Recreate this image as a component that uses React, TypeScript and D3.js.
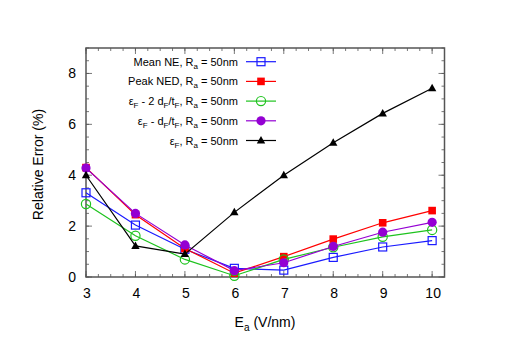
import React from "react";
import * as d3 from "d3";

const xValues = [3, 4, 5, 6, 7, 8, 9, 10];
const meanNE = [3.31, 2.04, 1.09, 0.34, 0.27, 0.77, 1.18, 1.43];
const peakNED = [4.3, 2.45, 1.12, 0.15, 0.8, 1.49, 2.13, 2.61];
const eps2d = [2.87, 1.62, 0.69, 0.05, 0.69, 1.17, 1.58, 1.85];
const eps1d = [4.28, 2.5, 1.26, 0.25, 0.56, 1.2, 1.76, 2.15];
const epsF = [4.0, 1.22, 0.9, 2.54, 4.0, 5.28, 6.43, 7.42];
const xTicks = [3, 4, 5, 6, 7, 8, 9, 10];
const yTicks = [0, 2, 4, 6, 8];

type Marker = "openSquare" | "square" | "openCircle" | "circle" | "triangle";
const series: { main: string; name: string; color: string; values: number[]; marker: Marker }[] = [
  { name: "mean", main: "Mean NE, R", color: "#1a1aff", values: meanNE, marker: "openSquare" },
  { name: "peak", main: "Peak NED, R", color: "#ff0000", values: peakNED, marker: "square" },
  { name: "eps2", main: "eps2", color: "#1ec31e", values: eps2d, marker: "openCircle" },
  { name: "eps1", main: "eps1", color: "#9400d3", values: eps1d, marker: "circle" },
  { name: "eps", main: "eps", color: "#000000", values: epsF, marker: "triangle" },
];

const L = 86, R = 444.5, T = 48, B = 277;
const x = d3.scaleLinear().domain([3, 10.25]).range([L, R]);
const y = d3.scaleLinear().domain([0, 9]).range([B, T]);

function MarkerShape({ type, cx, cy, color }: { type: Marker; cx: number; cy: number; color: string }) {
  switch (type) {
    case "openSquare":
      return <rect x={cx - 4} y={cy - 4} width={8} height={8} fill="none" stroke={color} strokeWidth={1.2} />;
    case "square":
      return <rect x={cx - 3.8} y={cy - 3.8} width={7.6} height={7.6} fill={color} />;
    case "openCircle":
      return <circle cx={cx} cy={cy} r={4.6} fill="none" stroke={color} strokeWidth={1.2} />;
    case "circle":
      return <circle cx={cx} cy={cy} r={4.6} fill={color} />;
    case "triangle":
      return <path d={`M${cx},${cy - 4.5}L${cx + 4.2},${cy + 3}L${cx - 4.2},${cy + 3}Z`} fill={color} />;
  }
}

function LegendLabel({ name, main }: { name: string; main: string }) {
  const sub = { fontSize: "8px" };
  if (name === "mean" || name === "peak") {
    return (
      <>
        {main}
        <tspan dy={3} style={sub}>a</tspan>
        <tspan dy={-3}> = 50nm</tspan>
      </>
    );
  }
  if (name === "eps2" || name === "eps1") {
    return (
      <>
        ε<tspan dy={3} style={sub}>F</tspan>
        <tspan dy={-3}>{name === "eps2" ? " - 2 d" : " - d"}</tspan>
        <tspan dy={3} style={sub}>F</tspan>
        <tspan dy={-3}>/t</tspan>
        <tspan dy={3} style={sub}>F</tspan>
        <tspan dy={-3}>, R</tspan>
        <tspan dy={3} style={sub}>a</tspan>
        <tspan dy={-3}> = 50nm</tspan>
      </>
    );
  }
  return (
    <>
      ε<tspan dy={3} style={sub}>F</tspan>
      <tspan dy={-3}>, R</tspan>
      <tspan dy={3} style={sub}>a</tspan>
      <tspan dy={-3}> = 50nm</tspan>
    </>
  );
}

export default function App() {
  const line = d3
    .line<number>()
    .x((_, i) => x(xValues[i]))
    .y((d) => y(d));
  const xMinor = d3.range(3, 10.26, 0.25);
  const yMinor = d3.range(0, 9.01, 0.5);
  const axisColor = "#555";
  const font = "'Liberation Sans', Arial, sans-serif";
  return (
    <svg width={515} height={364} style={{ position: "absolute", left: 0, top: 0, background: "#fff" }} fontFamily={font}>
      {xMinor.map((v, i) => (
        <g key={"xm" + i} stroke={axisColor} strokeWidth={0.8}>
          <line x1={x(v)} x2={x(v)} y1={B} y2={B - 3} />
          <line x1={x(v)} x2={x(v)} y1={T} y2={T + 3} />
        </g>
      ))}
      {yMinor.map((v, i) => (
        <g key={"ym" + i} stroke={axisColor} strokeWidth={0.8}>
          <line x1={L} x2={L + 3} y1={y(v)} y2={y(v)} />
          <line x1={R} x2={R - 3} y1={y(v)} y2={y(v)} />
        </g>
      ))}
      {xTicks.map((v) => (
        <g key={"xt" + v}>
          <line x1={x(v)} x2={x(v)} y1={B} y2={B - 6} stroke={axisColor} strokeWidth={0.8} />
          <line x1={x(v)} x2={x(v)} y1={T} y2={T + 6} stroke={axisColor} strokeWidth={0.8} />
          <text x={x(v) + 1} y={B + 21} textAnchor="middle" fontSize={14} fill="#000">
            {v}
          </text>
        </g>
      ))}
      {yTicks.map((v) => (
        <g key={"yt" + v}>
          <line x1={L} x2={L + 6} y1={y(v)} y2={y(v)} stroke={axisColor} strokeWidth={0.8} />
          <line x1={R} x2={R - 6} y1={y(v)} y2={y(v)} stroke={axisColor} strokeWidth={0.8} />
          <text x={L - 10} y={y(v) + 5} textAnchor="end" fontSize={14} fill="#000">
            {v}
          </text>
        </g>
      ))}
      <rect x={L} y={T} width={R - L} height={B - T} fill="none" stroke={axisColor} strokeWidth={1.5} />

      {series.map((s) => (
        <g key={s.name}>
          <path d={line(s.values) || ""} fill="none" stroke={s.color} strokeWidth={1.2} />
          {s.values.map((v, i) => (
            <MarkerShape key={i} type={s.marker} cx={x(xValues[i])} cy={y(v)} color={s.color} />
          ))}
        </g>
      ))}

      {series.map((s, i) => {
        const ly = 61.7 + i * 19.7;
        return (
          <g key={"lg" + s.name}>
            <text x={238} y={ly + 4} textAnchor="end" fontSize={11} fill="#000">
              <LegendLabel name={s.name} main={s.main} />
            </text>
            <line x1={246} x2={276} y1={ly} y2={ly} stroke={s.color} strokeWidth={1.2} />
            <MarkerShape type={s.marker} cx={261} cy={ly} color={s.color} />
          </g>
        );
      })}

      <text x={265} y={327} textAnchor="middle" fontSize={14} fill="#000">
        E<tspan dy={4} fontSize={10}>a</tspan>
        <tspan dy={-4}> (V/nm)</tspan>
      </text>
      <text transform={`translate(43,${(T + B) / 2 + 2}) rotate(-90)`} textAnchor="middle" fontSize={14} fill="#000">
        Relative Error (%)
      </text>
    </svg>
  );
}
